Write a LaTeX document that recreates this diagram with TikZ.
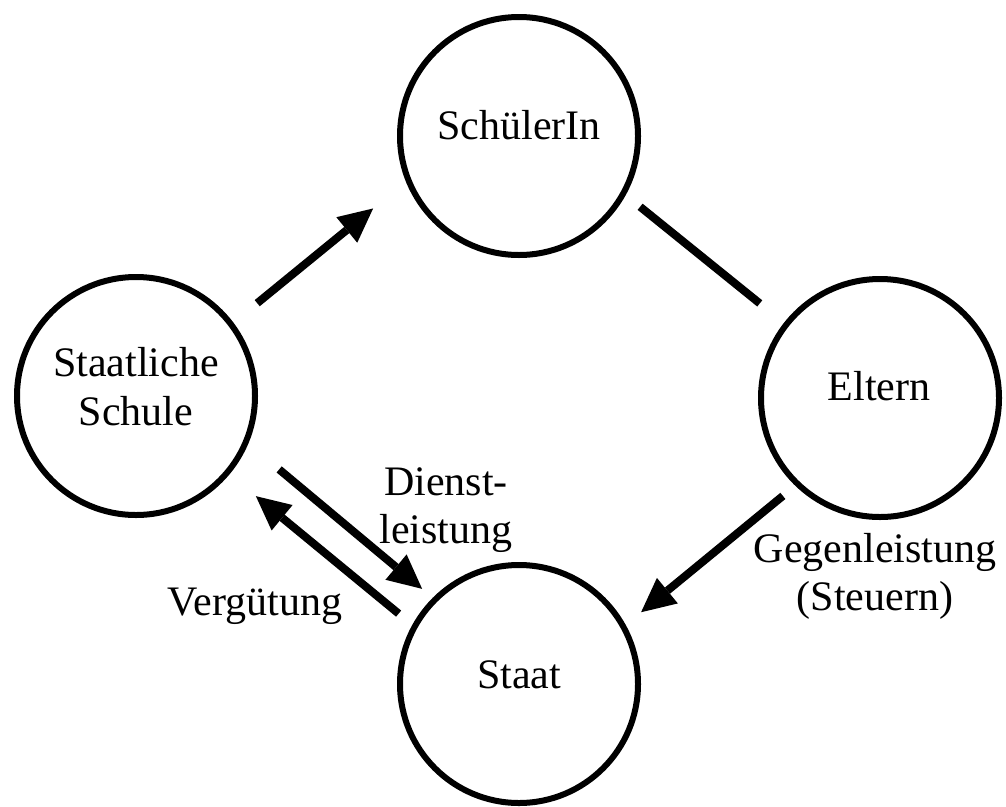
\documentclass[tikz,border=0pt]{standalone}
\usepackage{fontspec}
\setmainfont{Liberation Serif}
\usetikzlibrary{arrows.meta}
\tikzset{
  circ/.style={circle, draw, line width=6pt, minimum size=238pt, inner sep=0pt},
  lbl/.style={font=\fontsize{42}{48.3}\selectfont, inner sep=0pt, align=center, anchor=base},
  conn/.style={line width=8pt},
  arr/.style={-{Triangle[length=34pt,width=33pt,line width=0pt]}}
}
\begin{document}
\begin{tikzpicture}[x=1pt,y=-1pt]
\useasboundingbox (0,0) rectangle (1006,806);
\node[circ] (schueler) at (519,136) {};
\node[circ] (schule) at (136,396) {};
\node[circ] (eltern) at (880,398) {};
\node[circ] (staat) at (519,684) {};
\node[lbl] (schuelert) at (519,139) {SchülerIn};
\node[lbl] (schulet) at (136,425) {Staatliche\\Schule};
\node[lbl] (elternt) at (879,400) {Eltern};
\node[lbl] (staatt) at (519,688) {Staat};
\node[lbl] (dienst) at (446,543.3) {Dienst-\\leistung};
\node[lbl] (gegen) at (875,610.5) {Gegenleistung\\(Steuern)};
\node[lbl] (verg) at (255,615) {Vergütung};
\draw[conn,arr,shorten <=30.7pt,shorten >=42.3pt] (schule.37) -- (schueler.202);
\draw[conn,shorten <=18.5pt,shorten >=31pt] (schueler.331) -- (eltern.142);
\draw[conn,arr,shorten <=16pt,shorten >=19.9pt] (eltern.226) -- (staat.29);
\draw[conn,arr,shorten <=40.2pt,shorten >=13.8pt] (schule.337) -- (staat.135);
\draw[conn,arr,shorten <=17.7pt,shorten >=34.2pt] (staat.151) -- (schule.320);
\end{tikzpicture}
\end{document}
